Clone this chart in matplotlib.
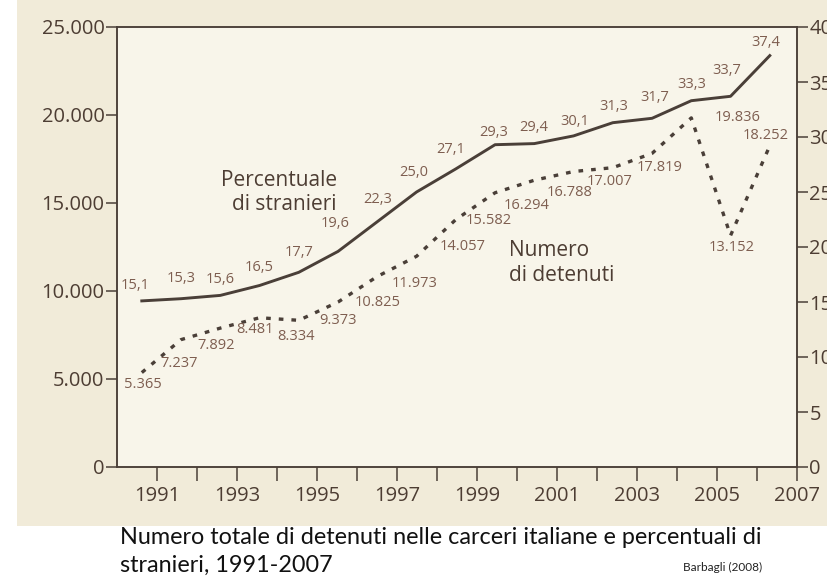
import numpy as np
import matplotlib
matplotlib.use("Agg")
import matplotlib.pyplot as plt
from matplotlib.patches import Rectangle

# dati (Barbagli 2008)
anni = list(range(1991, 2008))
perc_stranieri = [15.1, 15.3, 15.6, 16.5, 17.7, 19.6, 22.3, 25.0, 27.1,
                  29.3, 29.4, 30.1, 31.3, 31.7, 33.3, 33.7, 37.4]
num_detenuti = [5365, 7237, 7892, 8481, 8334, 9373, 10825, 11973, 14057,
                15582, 16294, 16788, 17007, 17819, 19836, 13152, 18252]
anni_ticks = list(range(1991, 2008, 2))
sx_ticks = [0, 5000, 10000, 15000, 20000, 25000]
dx_ticks = [0, 5, 10, 15, 20, 25, 30, 35, 40]

# spostamenti delle etichette (pixel)
off_perc = [(-7, 15), (0, 20), (0, 16), (0, 18), (0, 20), (-3, 28), (0, 22),
            (-3, 20), (-5, 19), (-1, 12), (-1, 16), (1, 14), (1, 16),
            (3, 21), (0, 16), (-4, 26), (-4, 13)]
off_num = [(1, -12), (-2, -24), (-4, -17), (-5, -12), (-3, -16), (0, -18),
           (0, -26), (-2, -27), (7, -27), (-6, -28), (-8, -25), (-4, -21),
           (-3, -14), (8, -14), (23, 0), (1, -12), (-4, 10)]

FONT = 'Open Sans'
C_LINE = '#4a3f38'
C_TICK = '#4d3d33'
C_VAL = '#7e5e50'

fig = plt.figure(figsize=(8.28, 5.86), dpi=100)
fig.patch.set_facecolor('white')
fig.patches.append(Rectangle((0.02, 0.103), 0.98, 0.897, transform=fig.transFigure,
                             facecolor='#f1ebd9', edgecolor='none', zorder=-10))

ax = fig.add_axes([117 / 828, 1 - 467 / 586, 680 / 828, 440 / 586])
ax.set_facecolor('#f8f5ea')
ax2 = ax.twinx()

# posizioni dei punti sull'asse degli anni (il grafico originale e' leggermente compresso)
xpos = np.linspace(1990.62, 2006.32, len(anni))

ax.plot(xpos, num_detenuti, color=C_LINE, lw=2.4, linestyle=(0, (1.4, 2.4)),
        solid_capstyle='butt')
ax2.plot(xpos, perc_stranieri, color=C_LINE, lw=2.1)

ax.set_xlim(1990, 2007)
ax.set_ylim(0, 25000)
ax2.set_ylim(0, 40)

for x, v, (dx, dy) in zip(xpos, num_detenuti, off_num):
    ha = 'left' if dx > 15 else 'center'
    ax.annotate(f"{v:,}".replace(',', '.'), (x, v), xytext=(dx * 0.72, dy * 0.72),
                textcoords='offset points', ha=ha, va='center',
                fontsize=10.5, color=C_VAL, family=FONT)
for x, v, (dx, dy) in zip(xpos, perc_stranieri, off_perc):
    ax2.annotate(f"{v:.1f}".replace('.', ','), (x, v), xytext=(dx * 0.72, dy * 0.72),
                 textcoords='offset points', ha='center', va='center',
                 fontsize=10.5, color=C_VAL, family=FONT)

# etichette delle serie
ax.text(1995.5, 15600, "Percentuale\ndi stranieri", ha='right', va='center',
        multialignment='right', fontsize=15, color=C_TICK, family=FONT,
        linespacing=1.2)
ax.text(1999.8, 11600, "Numero\ndi detenuti", ha='left', va='center',
        fontsize=15, color=C_TICK, family=FONT, linespacing=1.25)

ax.set_xticks(anni)
ax.set_xticklabels([str(a) if a in anni_ticks else '' for a in anni])
ax.set_yticks(sx_ticks)
ax.set_yticklabels([f"{t:,}".replace(',', '.') for t in sx_ticks])
ax2.set_yticks(dx_ticks)
ax2.set_yticklabels([str(t) for t in dx_ticks])

for a in (ax, ax2):
    for s in a.spines.values():
        s.set_color(C_LINE)
        s.set_linewidth(1.1)
    a.tick_params(colors=C_LINE, width=1.1, labelcolor=C_TICK, labelsize=14.5)
    for lab in a.get_xticklabels() + a.get_yticklabels():
        lab.set_family(FONT)
ax.tick_params(axis='x', length=10, pad=4)
ax.tick_params(axis='y', length=8, pad=1)
ax2.tick_params(axis='y', length=8, pad=1)

fig.text(120 / 828, 1 - 537 / 586,
         "Numero totale di detenuti nelle carceri italiane e percentuali di",
         fontsize=16.8, family='Lato', color='#111111', va='center')
fig.text(120 / 828, 1 - 565 / 586, "stranieri, 1991-2007",
         fontsize=16.8, family='Lato', color='#111111', va='center')
fig.text(683 / 828, 1 - 567 / 586, "Barbagli (2008)",
         fontsize=8.5, family='Lato', color='#222222', va='center')

fig.savefig('out.png', dpi=100)
